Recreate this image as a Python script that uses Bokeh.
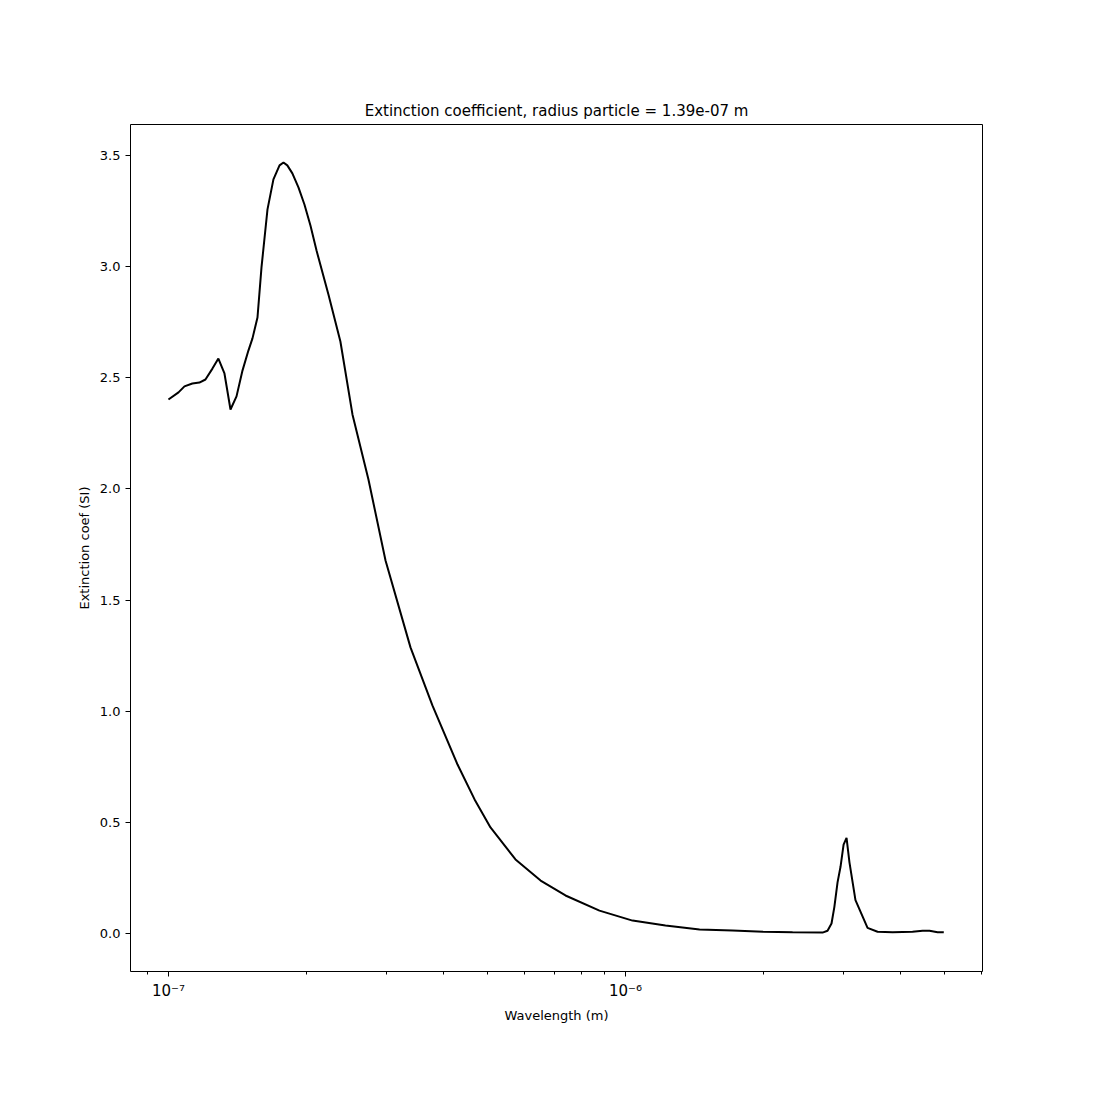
from bokeh.plotting import figure
from bokeh.models import FixedTicker, Range1d, NumeralTickFormatter
from bokeh.embed import file_html
from bokeh.resources import INLINE

# wavelength (m) and extinction coefficient
wavelength = [1.0e-7, 1.052e-7, 1.084e-7, 1.128e-7, 1.169e-7, 1.205e-7, 1.248e-7, 1.286e-7,
              1.326e-7, 1.367e-7, 1.409e-7, 1.452e-7, 1.496e-7, 1.527e-7, 1.566e-7, 1.598e-7,
              1.647e-7, 1.697e-7, 1.750e-7, 1.785e-7, 1.820e-7, 1.867e-7, 1.925e-7, 1.984e-7,
              2.045e-7, 2.108e-7, 2.239e-7, 2.378e-7, 2.527e-7, 2.739e-7, 2.985e-7, 3.385e-7,
              3.78e-7, 4.29e-7, 4.675e-7, 5.065e-7, 5.745e-7, 6.52e-7, 7.39e-7, 8.77e-7,
              1.036e-6, 1.223e-6, 1.452e-6, 1.714e-6, 2.0e-6, 2.32e-6, 2.698e-6, 2.767e-6,
              2.823e-6, 2.864e-6, 2.910e-6, 2.954e-6, 3.0e-6, 3.045e-6, 3.09e-6, 3.185e-6,
              3.385e-6, 3.56e-6, 3.84e-6, 4.246e-6, 4.467e-6, 4.625e-6, 4.816e-6, 4.97e-6]
ext_coef = [2.402, 2.434, 2.461, 2.474, 2.478, 2.492, 2.541, 2.586,
            2.519, 2.357, 2.416, 2.532, 2.622, 2.677, 2.771, 2.996,
            3.257, 3.392, 3.455, 3.468, 3.455, 3.419, 3.356, 3.279,
            3.185, 3.073, 2.874, 2.663, 2.335, 2.042, 1.678, 1.287,
            1.026, 0.760, 0.603, 0.477, 0.333, 0.238, 0.171, 0.103,
            0.058, 0.036, 0.018, 0.013, 0.008, 0.005, 0.004, 0.012,
            0.045, 0.12, 0.23, 0.30, 0.40, 0.43, 0.32, 0.15,
            0.025, 0.008, 0.006, 0.008, 0.012, 0.012, 0.006, 0.005]

p = figure(width=1080, height=1080, x_axis_type="log", output_backend="svg",
           toolbar_location=None, title="Extinction coefficient, radius particle = 1.39e-07 m",
           x_range=Range1d(8.26e-8, 6.04e-6), y_range=Range1d(-0.171, 3.639),
           min_border_left=130, min_border_right=90, min_border_top=124, min_border_bottom=109)
p.frame_width = 852
p.frame_height = 847
p.min_border_left = 130
p.title.align = "center"
p.title.text_font = "DejaVu Sans"
p.title.text_font_size = "15px"
p.title.text_font_style = "normal"
p.title.text_color = "black"

p.line(wavelength, ext_coef, line_color="black", line_width=2)

minor = [k * 10.0 ** e for e in (-8, -7, -6) for k in range(2, 10)]
p.xaxis.ticker = FixedTicker(ticks=[1e-7, 1e-6], minor_ticks=minor)
p.xaxis.major_label_overrides = {1e-7: "10⁻⁷", 1e-6: "10⁻⁶"}
p.yaxis.ticker = FixedTicker(ticks=[0, 0.5, 1.0, 1.5, 2.0, 2.5, 3.0, 3.5])
p.yaxis.formatter = NumeralTickFormatter(format="0.0")
p.xaxis.axis_label = "Wavelength (m)"
p.yaxis.axis_label = "Extinction coef (SI)"

for ax in (p.xaxis, p.yaxis):
    ax.axis_label_text_font = "DejaVu Sans"
    ax.axis_label_text_font_size = "13px"
    ax.axis_label_text_font_style = "normal"
    ax.axis_label_text_color = "black"
    ax.major_label_text_font = "DejaVu Sans"
    ax.major_label_text_font_size = "13px"
    ax.major_label_text_color = "black"
    ax.major_tick_in = 0
    ax.major_tick_out = 5
    ax.major_tick_line_color = "black"
    ax.minor_tick_in = 0
    ax.minor_tick_out = 3
    ax.minor_tick_line_color = "black"
    ax.axis_line_color = None
p.yaxis.minor_tick_out = 0
p.xaxis.major_label_text_font_size = "15px"

p.xgrid.grid_line_color = None
p.ygrid.grid_line_color = None
p.outline_line_color = "black"
p.outline_line_alpha = 1

open("out.html", "w").write(file_html(p, INLINE))
